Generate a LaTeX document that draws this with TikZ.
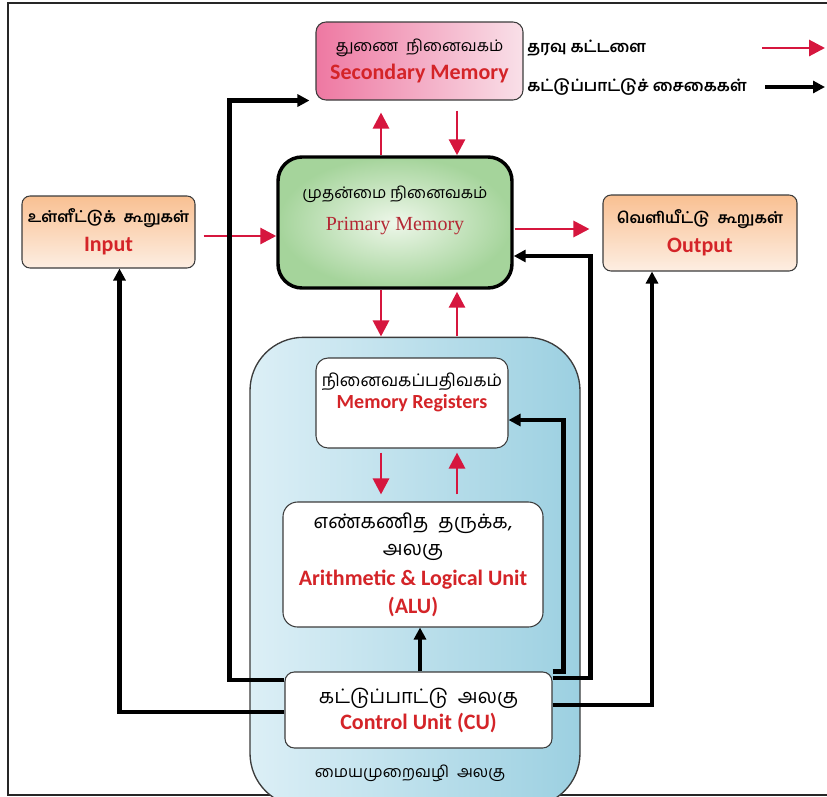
\documentclass[tikz,border=0pt]{standalone}
\usepackage{fontspec}
\newfontfamily\tafont[Script=Tamil]{Hind Madurai}
\newfontfamily\lafont{Carlito}
\newfontfamily\sefont{Liberation Serif}
\usetikzlibrary{arrows.meta,calc}
\definecolor{datared}{RGB}{214,22,62}
\definecolor{labred}{RGB}{212,36,40}
\definecolor{primred}{RGB}{180,40,52}
\definecolor{secpink}{RGB}{238,120,162}
\definecolor{secpale}{RGB}{249,224,232}
\definecolor{primgreen}{RGB}{165,212,155}
\definecolor{primpale}{RGB}{238,247,234}
\definecolor{iopeach}{RGB}{249,192,146}
\definecolor{iopale}{RGB}{253,238,226}
\definecolor{cpublue}{RGB}{156,208,225}
\definecolor{cpupale}{RGB}{220,239,246}
\definecolor{boxline}{RGB}{60,60,60}
\newcommand\tatext[1]{{\tafont #1}}
\newcommand\latext[1]{{\lafont\bfseries\color{labred}#1}}

\begin{document}
\begin{tikzpicture}[x=0.75pt,y=0.75pt,yscale=-1,xscale=1,
  unitbox/.style={draw=boxline,line width=0.8pt,inner sep=0pt,align=center,
    font=\fontsize{16.5}{19.5}\selectfont},
  databus/.style={draw=datared,line width=2.2pt,-{Triangle[length=12pt,width=12pt]}},
  ctrlbus/.style={draw=black,line width=3.2pt,-{Triangle[length=9pt,width=9pt]}},
  legtext/.style={anchor=west,inner sep=0pt,font=\tafont\bfseries\fontsize{12}{14}\selectfont}]
\useasboundingbox (0,0) rectangle (827,796);

% frame
\draw[line width=1.5pt,draw=black!85] (827,3) -- (8,3) -- (8,795) -- (827,795);

% central processing unit
\node[draw=boxline,line width=1pt,left color=cpupale,right color=cpublue,rounded corners=40pt,
  minimum width=247.5pt,minimum height=352pt] (cpu) at (415,572) {};
\node[inner sep=0pt,font=\tafont\fontsize{12}{14}\selectfont] (cpulabel) at (410,773) {மையமுறைவழி\enspace அலகு};

% memories
\node[unitbox,left color=secpink,right color=secpale,rounded corners=7.5pt,
  minimum width=155.25pt,minimum height=58.5pt] (sec) at (419.5,61)
  {\tatext{\fontsize{12}{19}\selectfont துணை\enspace நினைவகம்}\\[1pt]\latext{Secondary Memory}};
\node[draw=black,line width=2.6pt,inner color=primpale,outer color=primgreen,rounded corners=18pt,
  minimum width=175.5pt,minimum height=98.25pt] (prim) at (395,222.5) {};
\node[inner sep=0pt,align=center] (primtext) at (395,210)
  {\tatext{\fontsize{12}{14}\selectfont முதன்மை நினைவகம்}\\[10pt]{\sefont\color{primred}\fontsize{15}{17}\selectfont Primary Memory}};

% input and output
\node[unitbox,top color=iopeach,bottom color=iopale,rounded corners=6pt,
  minimum width=129.75pt,minimum height=54pt] (inp) at (108.5,232)
  {\tatext{\bfseries\fontsize{11.5}{19}\selectfont உள்ளீட்டுக்\enspace கூறுகள்}\\[2pt]\latext{Input}};
\node[unitbox,top color=iopeach,bottom color=iopale,rounded corners=6pt,
  minimum width=145.5pt,minimum height=57pt] (outp) at (700,233)
  {\tatext{\bfseries\fontsize{11.5}{19}\selectfont வெளியீட்டு\enspace கூறுகள்}\\[2pt]\latext{Output}};

% units inside the processor
\node[unitbox,fill=white,rounded corners=9pt,minimum width=144pt,minimum height=67.5pt] (mr) at (412,403) {};
\node[inner sep=0pt,align=center] (mrtext) at (412,392)
  {\tatext{\fontsize{13}{15}\selectfont நினைவகப்பதிவகம்}\\[2pt]\latext{\fontsize{15}{17}\selectfont Memory Registers}};
\node[unitbox,fill=white,rounded corners=11pt,minimum width=195pt,minimum height=93.75pt] (alu) at (413,564.5)
  {\tatext{\fontsize{15}{22}\selectfont எண்கணித\enspace தருக்க,}\\[1pt]\tatext{\fontsize{15}{22}\selectfont அலகு}\\[3pt]\latext{Arithmetic \& Logical Unit}\\[1pt]\latext{(ALU)}};
\node[unitbox,fill=white,rounded corners=7pt,minimum width=200.25pt,minimum height=57pt] (cu) at (418.5,710)
  {\tatext{\fontsize{15}{20}\selectfont கட்டுப்பாட்டு\enspace அலகு}\\\latext{Control Unit (CU)}};

% data paths
\draw[databus] (prim.north -| 381,0) -- ($(sec.south)+(-38.5,12)$);
\draw[databus] ($(sec.south)+(37.5,10)$) -- (prim.north -| 457,0);
\draw[databus] ($(inp.east)+(8,4)$) -- ($(prim.west)+(0,13.5)$);
\draw[databus] ($(prim.east)+(1,6.5)$) -- ($(outp.west)+(-13,-4)$);
\draw[databus] (prim.south -| 381,0) -- ($(mr.north)+(-31,-21)$);
\draw[databus] ($(mr.north)+(45,-21)$) -- ($(prim.south)+(62,2)$);
\draw[databus] ($(mr.south)+(-31,4)$) -- ($(alu.north)+(-32,-7)$);
\draw[databus] ($(alu.north)+(44,-7)$) -- ($(mr.south)+(45,4)$);

% control signals
\draw[ctrlbus] ($(cu.west)+(0,-30)$) -- ++(-55,0) |- ($(sec.south west)+(-6,0)$);
\draw[ctrlbus] ($(cu.west)+(0,2)$) -| ($(inp.south)+(11,0)$);
\draw[ctrlbus] ($(cu.east)+(0,-5)$) -| ($(outp.south)+(-48,0)$);
\draw[ctrlbus] ($(cu.east)+(0,-32)$) -- ++(38,0) |- ($(prim.east)+(0,33.5)$);
\draw[ctrlbus] (cu.north east) -- ++(11,0) |- ($(mr.east)+(0,17)$);
\draw[ctrlbus] ($(cu.north)+(1.5,0)$) -- ($(alu.south)+(7,0)$);

% legend
\node[legtext] (legdata) at (527,48) {தரவு கட்டளை};
\node[legtext] (legctrl) at (527,87) {கட்டுப்பாட்டுச் சைகைகள்};
\coordinate (legdatatip) at (825,48);
\coordinate (legctrltip) at (825,87);
\draw[databus] ($(legdatatip)+(-63,0)$) -- (legdatatip);
\draw[ctrlbus] ($(legctrltip)+(-60,0)$) -- (legctrltip);

\end{tikzpicture}
\end{document}
